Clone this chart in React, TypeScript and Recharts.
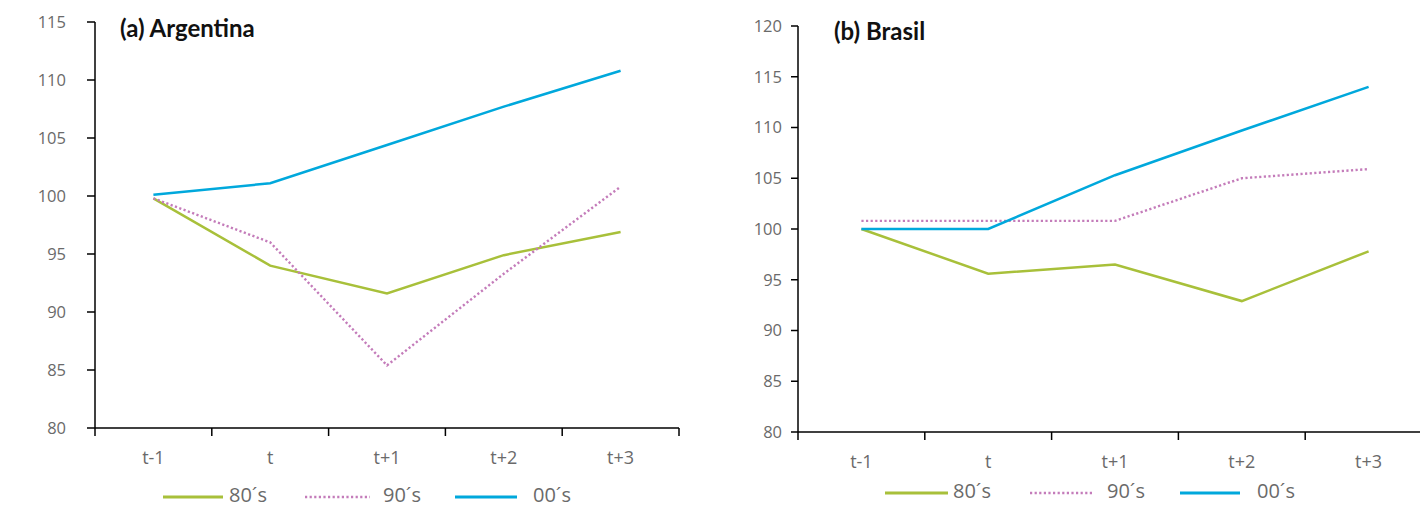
import React from 'react';
import { LineChart, Line, XAxis, YAxis } from 'recharts';

const categories = ['t-1', 't', 't+1', 't+2', 't+3'];
const seriesNames = ['80´s', '90´s', '00´s'];

const argentina80 = [99.8, 94.0, 91.6, 94.9, 96.9];
const argentina90 = [99.8, 96.0, 85.4, 93.3, 100.8];
const argentina00 = [100.1, 101.1, 104.4, 107.7, 110.8];

const brasil80 = [100, 95.6, 96.5, 92.9, 97.8];
const brasil90 = [100.8, 100.8, 100.8, 105.0, 105.9];
const brasil00 = [100, 100, 105.3, 109.7, 114.0];

const argentinaTicks = [80, 85, 90, 95, 100, 105, 110, 115];
const brasilTicks = [80, 85, 90, 95, 100, 105, 110, 115, 120];

const COLORS = ['#a8c03a', '#c47cba', '#00a8dc'];
const DASH = [undefined, '2.2 2.4', undefined];
const FONT = '"Open Sans", sans-serif';
const TICK_FILL = '#6a6a6a';

const buildData = (s80: number[], s90: number[], s00: number[]) =>
  categories.map((c, i) => ({ cat: c, s80: s80[i], s90: s90[i], s00: s00[i] }));

const keys = ['s80', 's90', 's00'];

interface PanelProps {
  title: string;
  data: any[];
  ticks: number[];
  left: number;
  width: number;
  yAxisWidth: number;
  top: number;
  plotBottom: number;
  right: number;
  yTickSize: number;
  yTickMargin: number;
  titleLeft: number;
  titleTop: number;
  legendTop: number;
  legendLines: [number, number, number][]; // [lineStart, lineLen, textLeft]
}

const HEIGHT = 507;
const X_AXIS_H = 30;
const X_TICK_MARGIN = 4;

function Panel(p: PanelProps) {
  const plotWidth = p.width - p.yAxisWidth - p.right;
  const band = plotWidth / categories.length;
  const XTick = (props: any) => {
    const { x, y, payload, index } = props;
    const axisY = y - X_TICK_MARGIN;
    return (
      <g>
        <line x1={x - band / 2} x2={x - band / 2} y1={axisY} y2={axisY + 8} stroke="#000" strokeWidth={1.5} />
        {index === categories.length - 1 && (
          <line x1={x + band / 2} x2={x + band / 2} y1={axisY} y2={axisY + 8} stroke="#000" strokeWidth={1.5} />
        )}
        <text x={x} y={axisY + 36} textAnchor="middle" fontFamily={FONT} fontSize={18} fill={TICK_FILL}>
          {payload.value}
        </text>
      </g>
    );
  };
  return (
    <div style={{ position: 'absolute', left: p.left, top: 0, width: p.width, height: HEIGHT }}>
      <LineChart
        width={p.width}
        height={HEIGHT}
        data={p.data}
        margin={{ top: p.top, right: p.right, left: 0, bottom: HEIGHT - p.plotBottom - X_AXIS_H }}
      >
        <XAxis
          dataKey="cat"
          scale="band"
          height={X_AXIS_H}
          tickSize={0}
          tickMargin={X_TICK_MARGIN}
          tick={XTick}
          axisLine={{ stroke: '#000', strokeWidth: 1.5 }}
          interval={0}
        />
        <YAxis
          width={p.yAxisWidth}
          domain={[p.ticks[0], p.ticks[p.ticks.length - 1]]}
          ticks={p.ticks}
          interval={0}
          tickSize={p.yTickSize}
          tickMargin={p.yTickMargin}
          axisLine={{ stroke: '#000', strokeWidth: 1.5 }}
          tickLine={{ stroke: '#000', strokeWidth: 1.5 }}
          tick={{ fontFamily: FONT, fontSize: 16.5, fill: TICK_FILL }}
        />
        {keys.map((k, i) => (
          <Line
            key={k}
            dataKey={k}
            type="linear"
            stroke={COLORS[i]}
            strokeWidth={i === 1 ? 2.4 : 2.5}
            strokeDasharray={DASH[i]}
            dot={false}
            activeDot={false}
            isAnimationActive={false}
          />
        ))}
      </LineChart>
      <div
        style={{
          position: 'absolute',
          left: p.titleLeft - p.left,
          top: p.titleTop,
          fontFamily: 'Lato, sans-serif',
          fontWeight: 700,
          fontSize: 24,
          lineHeight: '30px',
          color: '#111',
          whiteSpace: 'nowrap',
        }}
      >
        {p.title}
      </div>
      {seriesNames.map((name, i) => {
        const [ls, ll, tl] = p.legendLines[i];
        return (
          <React.Fragment key={name}>
            <svg
              style={{ position: 'absolute', left: ls - p.left, top: p.legendTop - 3 }}
              width={ll}
              height={6}
            >
              <line
                x1={0}
                x2={ll}
                y1={3}
                y2={3}
                stroke={COLORS[i]}
                strokeWidth={i === 1 ? 2.4 : 3}
                strokeDasharray={DASH[i]}
              />
            </svg>
            <div
              style={{
                position: 'absolute',
                left: tl - p.left,
                top: p.legendTop - 14,
                fontFamily: FONT,
                fontSize: 20,
                color: TICK_FILL,
                whiteSpace: 'nowrap',
                lineHeight: '24px',
              }}
            >
              {name}
            </div>
          </React.Fragment>
        );
      })}
    </div>
  );
}

export default function App() {
  const argData = buildData(argentina80, argentina90, argentina00);
  const braData = buildData(brasil80, brasil90, brasil00);
  return (
    <div
      style={{
        position: 'absolute',
        left: 0,
        top: 0,
        width: 1420,
        height: HEIGHT,
        overflow: 'hidden',
        background: '#fff',
      }}
    >
      <Panel
        title="(a) Argentina"
        data={argData}
        ticks={argentinaTicks}
        left={0}
        width={700}
        yAxisWidth={95}
        top={22}
        plotBottom={428}
        right={21}
        yTickSize={8}
        yTickMargin={21}
        titleLeft={120}
        titleTop={13}
        legendTop={497}
        legendLines={[
          [163, 60, 229],
          [305, 65, 383],
          [455, 62, 533],
        ]}
      />
      <Panel
        title="(b) Brasil"
        data={braData}
        ticks={brasilTicks}
        left={720}
        width={720}
        yAxisWidth={78}
        top={26}
        plotBottom={432}
        right={8}
        yTickSize={7}
        yTickMargin={9}
        titleLeft={834}
        titleTop={16}
        legendTop={493}
        legendLines={[
          [885, 63, 953],
          [1030, 64, 1107],
          [1180, 60, 1257],
        ]}
      />
    </div>
  );
}
